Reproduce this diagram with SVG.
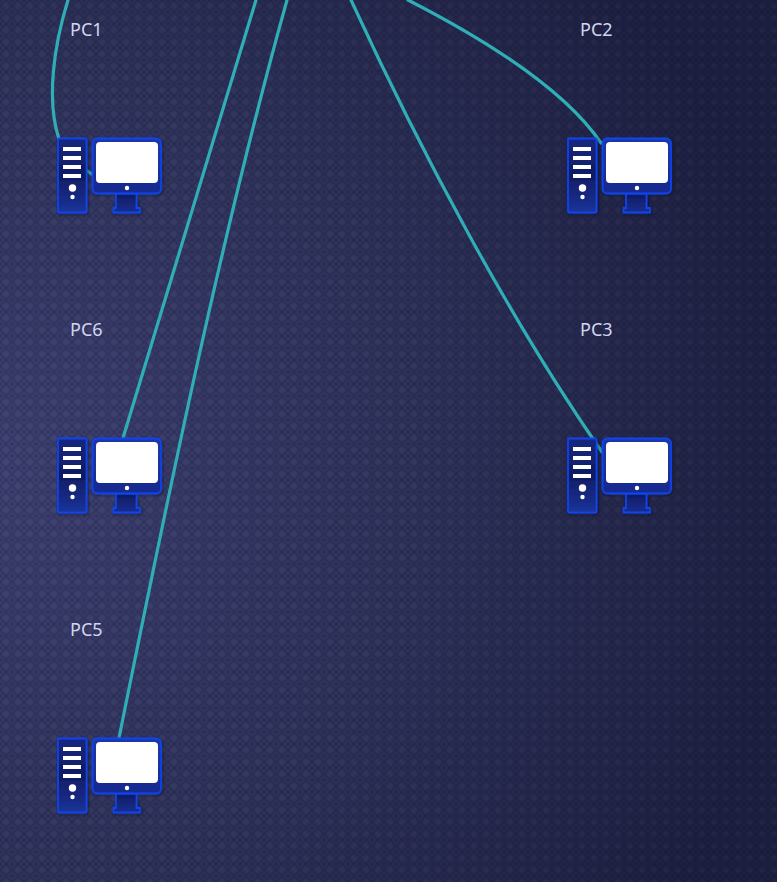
<svg xmlns="http://www.w3.org/2000/svg" width="777" height="882" viewBox="0 0 777 882">
<defs>
<radialGradient id="bg" gradientUnits="userSpaceOnUse" cx="0" cy="470" r="800"><stop offset="0" stop-color="#3d4070"/><stop offset="0.5" stop-color="#2f325a"/><stop offset="1" stop-color="#1c1f40"/></radialGradient>
<pattern id="tex" width="12" height="12" patternUnits="userSpaceOnUse"><path d="M6 0L12 6L6 12L0 6Z" fill="none" stroke="#0b0d26" stroke-opacity="0.2" stroke-width="1.2"/><circle cx="6" cy="6" r="2.500" fill="#ffffff" fill-opacity="0.025"/><circle cx="0" cy="0" r="1.800" fill="#0b0d26" fill-opacity="0.2"/><circle cx="12" cy="0" r="1.800" fill="#0b0d26" fill-opacity="0.2"/><circle cx="0" cy="12" r="1.800" fill="#0b0d26" fill-opacity="0.2"/><circle cx="12" cy="12" r="1.800" fill="#0b0d26" fill-opacity="0.2"/></pattern>
<linearGradient id="body" x1="0" y1="0" x2="0" y2="1"><stop offset="0" stop-color="#1d37a6"/><stop offset="1" stop-color="#172a8e"/></linearGradient>
<linearGradient id="case" x1="0" y1="0" x2="0" y2="1"><stop offset="0" stop-color="#15287f"/><stop offset="0.5" stop-color="#101c63"/><stop offset="1" stop-color="#1b3399"/></linearGradient>
<linearGradient id="stand" x1="0" y1="0" x2="0" y2="1"><stop offset="0" stop-color="#0f1a60"/><stop offset="1" stop-color="#1a2f90"/></linearGradient>
<filter id="soft" x="-10%" y="-10%" width="120%" height="120%"><feGaussianBlur stdDeviation="0.700"/></filter>
<filter id="shadow" x="-15%" y="-15%" width="130%" height="130%"><feDropShadow dx="1" dy="1" stdDeviation="1.500" flood-color="#0a0c24" flood-opacity="0.55"/></filter>
<g id="pc">
<g filter="url(#shadow)">
<rect class="e" x="58" y="138.500" width="28.500" height="74" rx="1" fill="url(#case)"/>
<path class="e" d="M116 193.500V208H113.500V212.500H140V208H136.500V193.500Z" fill="url(#stand)"/>
<rect class="e" x="92.500" y="138.500" width="68.500" height="55" rx="5" fill="url(#body)"/>
</g>
<g fill="#fff" filter="url(#soft)"><rect x="63" y="147" width="18" height="4"/><rect x="63" y="156" width="18" height="4"/><rect x="63" y="165" width="18" height="4"/><rect x="63" y="174" width="18" height="4"/><circle cx="72.500" cy="188" r="3.700"/><circle cx="72.500" cy="197" r="2.200"/><rect x="96" y="142" width="62" height="41" rx="4"/><circle cx="127" cy="188" r="2.200"/></g>
</g>
</defs>
<style>
.e{stroke:#1044ee;stroke-width:1.800}
.c{fill:none;stroke:#30aeb6;stroke-width:3.200;stroke-linecap:round}
text{font-family:"Noto Sans","Liberation Sans",sans-serif;font-size:18px;fill:#d2d6ee}
</style>
<rect width="777" height="882" fill="url(#bg)"/>
<rect width="777" height="882" fill="url(#tex)"/>
<g id="connectors">
<path class="c" d="M68 0C54 45 46 100 59 139"/>
<path class="c" d="M86 170L93 175"/>
<path class="c" d="M408 0C490 42 565 90 601 143"/>
<path class="c" d="M256 0L123 438"/>
<path class="c" d="M287 0C220 240 165 510 119 738"/>
<path class="c" d="M351 0C420 150 510 320 602 452"/>
</g>
<g id="pc1"><use href="#pc"/><text x="70" y="36">PC1</text></g>
<g id="pc2"><use href="#pc" x="510"/><text x="580" y="36">PC2</text></g>
<g id="pc6"><use href="#pc" y="300"/><text x="70" y="336">PC6</text></g>
<g id="pc3"><use href="#pc" x="510" y="300"/><text x="580" y="336">PC3</text></g>
<g id="pc5"><use href="#pc" y="600"/><text x="70" y="636">PC5</text></g>
</svg>
